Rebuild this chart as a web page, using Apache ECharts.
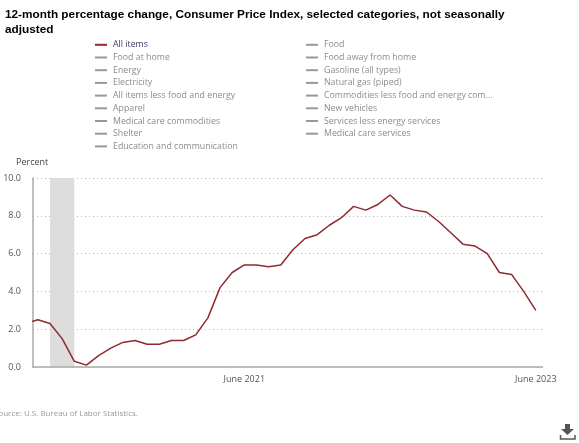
<!DOCTYPE html>
<html>
<head>
<meta charset="utf-8">
<script src="https://cdn.jsdelivr.net/npm/echarts@6/dist/echarts.min.js"></script>
<style>html,body{margin:0;padding:0;background:#fff}#c{width:579px;height:443px}</style>
</head>
<body>
<div id="c"></div>
<script>
const months = ["Dec 2019","Jan 2020","Feb 2020","Mar 2020","Apr 2020","May 2020","June 2020","Jul 2020","Aug 2020","Sep 2020","Oct 2020","Nov 2020","Dec 2020","Jan 2021","Feb 2021","Mar 2021","Apr 2021","May 2021","June 2021","Jul 2021","Aug 2021","Sep 2021","Oct 2021","Nov 2021","Dec 2021","Jan 2022","Feb 2022","Mar 2022","Apr 2022","May 2022","June 2022","Jul 2022","Aug 2022","Sep 2022","Oct 2022","Nov 2022","Dec 2022","Jan 2023","Feb 2023","Mar 2023","Apr 2023","May 2023","June 2023"];
const allItems = [2.3,2.5,2.3,1.5,0.3,0.1,0.6,1.0,1.3,1.4,1.2,1.2,1.4,1.4,1.7,2.6,4.2,5.0,5.4,5.4,5.3,5.4,6.2,6.8,7.0,7.5,7.9,8.5,8.3,8.6,9.1,8.5,8.3,8.2,7.7,7.1,6.5,6.4,6.0,5.0,4.9,4.0,3.0];
const tickLabels = ["June 2021","June 2023"];
const yTicks = [0,2,4,6,8,10];
const recession = ["Feb 2020","Apr 2020"];
const legendLeft = ["All items","Food at home","Energy","Electricity","All items less food and energy","Apparel","Medical care commodities","Shelter","Education and communication"];
const legendRight = ["Food","Food away from home","Gasoline (all types)","Natural gas (piped)","Commodities less food and energy com...","New vehicles","Services less energy services","Medical care services"];
const titleText = "12-month percentage change, Consumer Price Index, selected categories, not seasonally\nadjusted";
const sourceText = "Source: U.S. Bureau of Labor Statistics.";

const bodyFont = '"Open Sans", sans-serif';
const idx = m => months.indexOf(m);
const chart = echarts.init(document.getElementById('c'), null, {renderer:'canvas'});
const greySeries = legendLeft.concat(legendRight).filter(n => n !== "All items").map(n => ({
  name:n, type:'line', data:[], color:'#999999', symbol:'none'
}));
const legendCfg = (names,left) => ({
  orient:'vertical', left, top:39.5, itemWidth:12, itemHeight:2, itemGap:2.1, icon:'rect',
  selectedMode:false, padding:0,
  textStyle:{fontFamily:bodyFont, fontSize:8.8, lineHeight:10.6, color:'#8c8c8c', padding:[0,0,0,1]},
  data:names.map(name => name==="All items" ? {name, textStyle:{color:'#3b3b6b'}} : {name})
});
chart.setOption({
  animation:false,
  title:{text:titleText, left:5, top:7, padding:0,
    textStyle:{fontFamily:'"Liberation Sans", Arial, sans-serif', fontSize:11.8, fontWeight:'bold', lineHeight:15, color:'#000'}},
  legend:[legendCfg(legendLeft,95), legendCfg(legendRight,306)],
  grid:{left:33, right:36.5, top:178, bottom:76, containLabel:false},
  xAxis:{type:'value', min:0.6, max:42.55, splitLine:{show:false},
    axisLine:{show:true, onZero:false, lineStyle:{color:'#aaaaaa', width:1.5}},
    axisTick:{show:false},
    axisLabel:{customValues:tickLabels.map(idx), formatter:v => months[v], color:'#555', fontFamily:bodyFont, fontSize:9, margin:8, showMinLabel:true, showMaxLabel:true, hideOverlap:false}},
  yAxis:{type:'value', min:0, max:10, interval:2, name:'Percent', nameLocation:'end', nameGap:11,
    nameTextStyle:{color:'#444', fontFamily:bodyFont, fontSize:9, align:'left', padding:[0,0,0,-17]},
    axisLine:{show:true, lineStyle:{color:'#aaaaaa', width:1.5}}, axisTick:{show:false},
    splitLine:{show:true, lineStyle:{type:[1,3], color:'#bbbbbb', width:1}},
    axisLabel:{formatter:v => yTicks.includes(v) ? v.toFixed(1) : '', color:'#555', fontFamily:bodyFont, fontSize:9, margin:12}},
  series:[{
    name:"All items", type:'line', data:allItems.map((v,i) => [i,v]), color:'#8e2a30', symbol:'none',
    lineStyle:{width:1.5}, clip:true,
    markArea:{silent:true, itemStyle:{color:'#dddddd', opacity:1}, z:0,
      data:[[{xAxis:idx(recession[0])},{xAxis:idx(recession[1])}]]}
  }].concat(greySeries),
  graphic:[
    {type:'text', left:-6, top:410, silent:true, style:{text:sourceText, fill:'#999', font:'8px '+bodyFont}},
    {type:'group', left:558, top:424, children:[
      {type:'polygon', shape:{points:[[5,0],[10,0],[10,5],[14,5],[7.5,11],[1,5],[5,5]]}, style:{fill:'#555'}},
      {type:'polyline', shape:{points:[[0.5,11],[0.5,15],[15,15],[15,11]]}, style:{stroke:'#555', fill:null, lineWidth:1.5}}
    ]}
  ]
});
</script>
</body>
</html>
